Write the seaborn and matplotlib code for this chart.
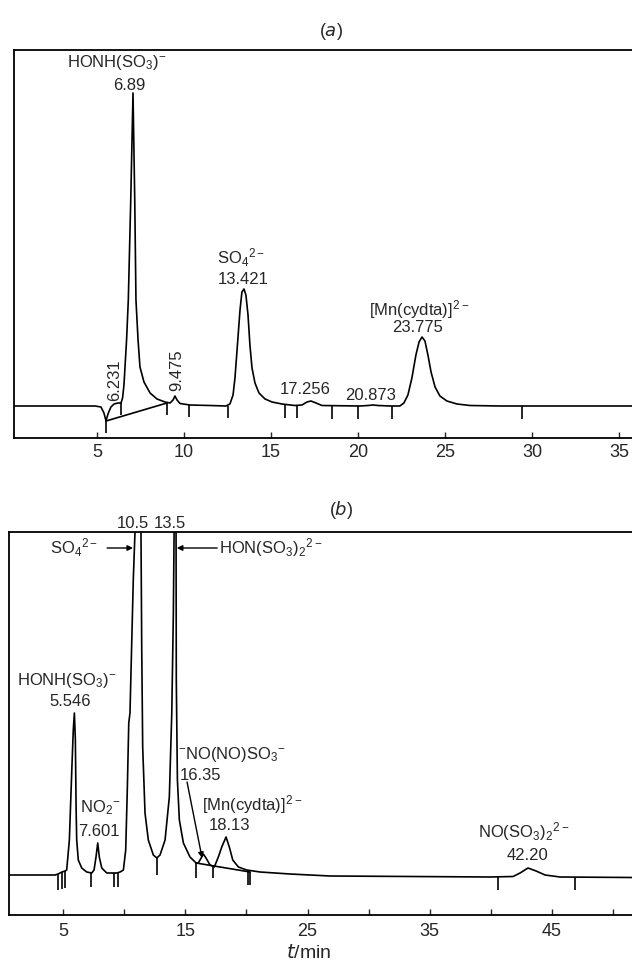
import numpy as np
import pandas as pd
import matplotlib
matplotlib.use("Agg")
import matplotlib.pyplot as plt
import seaborn as sns

# ---------------- Panel (a) data ----------------
a_time = [0.23, 4.89, 5.23, 5.40, 5.52, 5.63, 5.80, 5.98, 6.21, 6.38, 6.47, 6.55, 6.61, 6.70,
          6.80, 6.94, 7.07, 7.17, 7.24, 7.36, 7.47, 7.70, 8.05, 8.45, 8.91, 9.20, 9.37, 9.48,
          9.60, 9.77, 10.34, 11.49, 12.41, 12.64, 12.82, 12.93, 13.05, 13.22, 13.33, 13.45,
          13.56, 13.68, 13.79, 13.91, 14.08, 14.31, 14.66, 15.06, 15.63, 16.38, 16.78, 17.07,
          17.30, 17.59, 17.93, 20.11, 20.57, 20.86, 21.15, 21.84, 22.41, 22.64, 22.87, 23.10,
          23.33, 23.51, 23.68, 23.85, 24.02, 24.20, 24.43, 24.71, 25.11, 25.69, 26.44, 28.16, 35.75]
a_signal = [0, 0, -1, -7, -15, -8, -1, 2, 3, 3, 8, 21, 39, 66,
            106, 206, 313, 206, 106, 66, 39, 24, 13, 7, 4, 3, 6, 10,
            6, 2.5, 1, 0.5, 0, 2, 11, 28, 56, 96, 114, 117,
            111, 91, 61, 38, 23, 13, 7, 4, 2, 0.5, 1, 4,
            5, 3, 0.5, 0, 0.5, 1, 0.5, 0, 0, 3, 11, 28,
            51, 64, 69, 65, 51, 34, 19, 10, 5, 2, 0.5, 0, 0]
a_mark_time = [5.52, 6.38, 9.02, 10.29, 12.53, 15.80, 16.49, 18.51, 20.00, 21.95, 29.40]
a_mark_top = [-15, 3, 4, 1, 0, 1, 0.5, 0, 0, 0, 0]
a_mark_bottom = [-27, -9, -9, -11, -12, -12, -12, -13, -13, -13, -13]
a_base_time = [5.52, 9.02]
a_base_signal = [-15, 3]
a_ticks = [5, 10, 15, 20, 25, 30, 35]

a_labels = ["HONH(SO$_3$)$^{-}$", "6.89", "SO$_4$$^{2-}$", "13.421",
            "[Mn(cydta)]$^{2-}$", "23.775", "17.256", "20.873"]
a_label_t = [6.15, 6.84, 13.3, 13.39, 23.5, 23.4, 16.95, 20.7]
a_label_s = [344, 321, 148, 126, 96, 79, 16, 11]
a_rot_labels = ["6.231", "9.475"]
a_rot_t = [6.03, 9.6]
a_rot_s = [26, 36]

# ---------------- Panel (b) data ----------------
b_time = [0.57, 4.34, 4.58, 4.91, 5.16, 5.29, 5.51, 5.70, 5.83, 5.92, 6.00, 6.06, 6.11, 6.24,
          6.52, 6.93, 7.34, 7.53, 7.69, 7.83, 7.96, 8.16, 8.57, 9.39, 9.66, 9.93, 10.12, 10.25,
          10.37, 10.47, 10.74, 10.88, 11.13, 11.37, 11.43, 11.51, 11.70, 11.97, 12.38, 12.66,
          12.93, 13.34, 13.69, 13.89, 14.02, 14.08, 14.16, 14.24, 14.26, 14.35, 14.51, 14.84,
          15.38, 15.88, 16.06, 16.34, 16.47, 16.69, 17.02, 17.37, 17.70, 17.98, 18.33, 18.60,
          18.88, 19.34, 20.02, 21.11, 23.57, 26.84, 39.93, 41.82, 42.39, 43.04, 43.70, 44.44,
          45.66, 51.55]
b_signal = [0, 0, 1, 3, 4, 5, 35, 102, 145, 162, 135, 68, 35, 15,
            7, 3, 2, 5, 18, 32, 18, 7, 2, 2, 3, 5, 25, 85,
            152, 162, 295, 343, 900, 343, 228, 128, 62, 35, 20, 17,
            20, 35, 78, 162, 262, 343, 900, 343, 195, 95, 55, 32,
            18, 12, 12, 18, 21, 17, 10, 8, 18, 28, 38, 28,
            15, 8, 5, 3, 1, -1, -2, -1.5, 2, 7, 4, 0,
            -2, -2.5]
b_mark_time = [4.58, 4.91, 5.16, 7.30, 9.20, 9.50, 12.66, 15.88, 17.30, 20.10, 20.30, 40.6, 46.9]
b_mark_top = [1, 3, 4, 2, 2, 2, 17, 12, 8, 3, 3, -2, -2]
b_mark_bottom = [-15, -14, -13, -12, -12, -12, 0, -3, -3, -10, -10, -15, -15]
b_base_time = [15.88, 20.30]
b_base_signal = [12, 3]
b_ticks = [5, 10, 15, 20, 25, 30, 35, 40, 45, 50]
b_tick_labels = ["5", "", "15", "", "25", "", "35", "", "45", ""]

b_labels = ["HONH(SO$_3$)$^{-}$", "5.546", "NO$_2$$^{-}$", "7.601", "18.13",
            "NO(SO$_3$)$_2$$^{2-}$", "42.20", "10.5", "13.5"]
b_label_t = [5.3, 5.56, 8.0, 7.94, 18.58, 42.7, 42.96, 10.72, 13.75]
b_label_s = [195, 173, 67, 43, 50, 43, 19, 352, 352]
b_left_labels = ["$^{-}$NO(NO)SO$_3$$^{-}$", "16.35", "[Mn(cydta)]$^{2-}$"]
b_left_t = [14.4, 14.57, 16.37]
b_left_s = [120, 99, 70]

# ---------------- Style ----------------
sns.set_style("white")
plt.rcParams["font.family"] = ["Liberation Sans", "DejaVu Sans"]
plt.rcParams["mathtext.default"] = "regular"

W, H = 632, 965
fig = plt.figure(figsize=(W / 100, H / 100), dpi=100)
ax_a = fig.add_axes([14 / W, 1 - 438 / H, 1 - 14 / W, (438 - 50) / H])
ax_b = fig.add_axes([9 / W, 1 - 915 / H, 1 - 9 / W, (915 - 532) / H])

LW = 1.2
FS = 12

def style_axes(ax):
    for side in ["left", "top", "bottom"]:
        ax.spines[side].set_visible(True)
        ax.spines[side].set_color("black")
        ax.spines[side].set_linewidth(1.3)
    ax.spines["right"].set_visible(False)
    ax.set_yticks([])
    ax.set_ylabel("")
    ax.set_xlabel("")

# ---- panel a ----
dfa = pd.DataFrame({"t": a_time, "s": a_signal})
sns.lineplot(data=dfa, x="t", y="s", ax=ax_a, color="black", lw=LW, estimator=None, sort=False)
ax_a.vlines(a_mark_time, a_mark_bottom, a_mark_top, color="black", lw=LW)
ax_a.plot(a_base_time, a_base_signal, color="black", lw=LW)
ax_a.set_xlim(0.23, 35.75)
ax_a.set_ylim(-32, 356)
style_axes(ax_a)
ax_a.set_xticks(a_ticks)
ax_a.set_xticklabels([str(v) for v in a_ticks])
ax_a.tick_params(axis="x", direction="in", length=4, width=1, pad=4, labelsize=13, bottom=True)
for txt, t, s in zip(a_labels, a_label_t, a_label_s):
    ax_a.text(t, s, txt, ha="center", va="center", fontsize=FS)
for txt, t, s in zip(a_rot_labels, a_rot_t, a_rot_s):
    ax_a.text(t, s, txt, ha="center", va="center", fontsize=FS, rotation=90)
fig.text(331 / W, 1 - 32 / H, "($\\it{a}$)", ha="center", va="center", fontsize=13)

# ---- panel b ----
dfb = pd.DataFrame({"t": b_time, "s": b_signal})
sns.lineplot(data=dfb, x="t", y="s", ax=ax_b, color="black", lw=LW, estimator=None, sort=False)
ax_b.vlines(b_mark_time, b_mark_bottom, b_mark_top, color="black", lw=LW)
ax_b.plot(b_base_time, b_base_signal, color="black", lw=LW)
ax_b.set_xlim(0.57, 51.55)
ax_b.set_ylim(-40, 343)
style_axes(ax_b)
ax_b.set_xticks(b_ticks)
ax_b.set_xticklabels(b_tick_labels)
ax_b.tick_params(axis="x", direction="in", length=4, width=1, pad=6, labelsize=13, bottom=True)
for txt, t, s in zip(b_labels, b_label_t, b_label_s):
    ax_b.text(t, s, txt, ha="center", va="center", fontsize=FS, clip_on=False)
for txt, t, s in zip(b_left_labels, b_left_t, b_left_s):
    ax_b.text(t, s, txt, ha="left", va="center", fontsize=FS)

arrow = dict(arrowstyle="-|>", color="black", lw=1, mutation_scale=8, shrinkA=0, shrinkB=0)
ax_b.annotate("", xy=(10.72, 327), xytext=(8.6, 327), arrowprops=arrow)
ax_b.text(5.9, 327, "SO$_4$$^{2-}$", ha="center", va="center", fontsize=FS)
ax_b.annotate("", xy=(14.3, 327), xytext=(17.6, 327), arrowprops=arrow)
ax_b.text(17.75, 327, "HON(SO$_3$)$_2$$^{2-}$", ha="left", va="center", fontsize=FS)
ax_b.annotate("", xy=(16.37, 17), xytext=(15.14, 93), arrowprops=arrow)

fig.text(341 / W, 1 - 510 / H, "($\\it{b}$)", ha="center", va="center", fontsize=13)
fig.text(309 / W, 1 - 953 / H, "$\\it{t}$/min", ha="center", va="center", fontsize=14)

fig.savefig("out.png", dpi=100, facecolor="white")
